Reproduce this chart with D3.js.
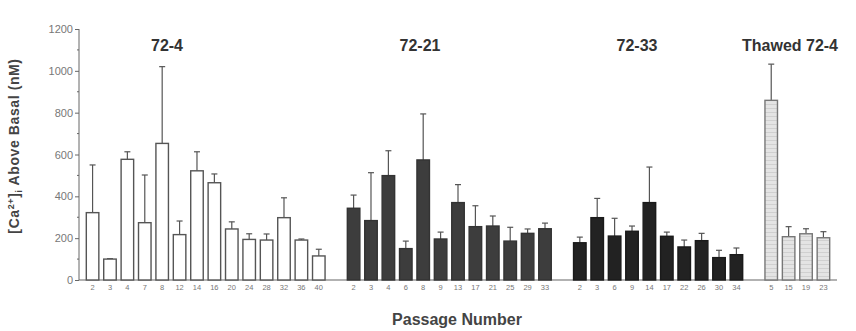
<!DOCTYPE html>
<html>
<head>
<meta charset="utf-8">
<script src="https://cdn.jsdelivr.net/npm/d3@7"></script>
<style>
  body { margin: 0; background: #fff; }
  text { font-family: "Liberation Sans", Arial, sans-serif; }
</style>
</head>
<body>
<div id="chart"></div>
<script>
// Group names and passage labels
const groupNames = ["72-4", "72-21", "72-33", "Thawed 72-4"];

const passages724 = ["2", "3", "4", "7", "8", "12", "14", "16", "20", "24", "28", "32", "36", "40"];
const means724 = [322, 100, 577, 274, 653, 217, 522, 465, 244, 194, 191, 298, 191, 115];
const errTop724 = [550, 102, 613, 502, 1020, 282, 613, 507, 278, 221, 220, 393, 196, 147];

const passages7221 = ["2", "3", "4", "6", "8", "9", "13", "17", "21", "25", "29", "33"];
const means7221 = [343, 284, 499, 150, 574, 196, 370, 255, 258, 186, 223, 245];
const errTop7221 = [406, 513, 618, 186, 794, 229, 456, 355, 306, 252, 244, 272];

const passages7233 = ["2", "3", "6", "9", "14", "17", "22", "26", "30", "34"];
const means7233 = [178, 298, 210, 233, 370, 209, 158, 188, 107, 121];
const errTop7233 = [205, 390, 295, 258, 540, 229, 191, 223, 142, 153];

const passagesThawed = ["5", "15", "19", "23"];
const meansThawed = [859, 207, 221, 202];
const errTopThawed = [1032, 255, 245, 231];

const yTicks = [0, 200, 400, 600, 800, 1000, 1200];

document.addEventListener("DOMContentLoaded", () => {
  const width = 856;
  const height = 331;

  const svg = d3.select("#chart")
    .append("svg")
    .attr("width", width)
    .attr("height", height);

  // pattern for the thawed bars (faint horizontal lines)
  const pat = svg.append("defs").append("pattern")
    .attr("id", "hlines")
    .attr("patternUnits", "userSpaceOnUse")
    .attr("width", 6)
    .attr("height", 4);
  pat.append("rect").attr("width", 6).attr("height", 4).attr("fill", "#e4e4e4");
  pat.append("line").attr("x1", 0).attr("x2", 6).attr("y1", 0.5).attr("y2", 0.5)
    .attr("stroke", "#cccccc").attr("stroke-width", 0.8);

  const groups = [
    { name: groupNames[0], labels: passages724, means: means724, errs: errTop724, fill: "#ffffff", stroke: "#555" },
    { name: groupNames[1], labels: passages7221, means: means7221, errs: errTop7221, fill: "#3d3d3d", stroke: "#333" },
    { name: groupNames[2], labels: passages7233, means: means7233, errs: errTop7233, fill: "#222222", stroke: "#1a1a1a" },
    { name: groupNames[3], labels: passagesThawed, means: meansThawed, errs: errTopThawed, fill: "url(#hlines)", stroke: "#777" }
  ];

  // one slot per bar plus an empty slot between groups
  const bars = [];
  const slots = [];
  groups.forEach((g, gi) => {
    g.labels.forEach((lab, i) => {
      const key = `${gi}-${lab}`;
      slots.push(key);
      bars.push({ key, label: lab, mean: g.means[i], err: g.errs[i], fill: g.fill, stroke: g.stroke, group: gi });
    });
    if (gi < groups.length - 1) slots.push(`gap${gi}`);
  });

  const x = d3.scaleBand()
    .domain(slots)
    .range([79, 837])
    .paddingInner(0.28)
    .paddingOuter(0.42);

  const y = d3.scaleLinear().domain([0, 1200]).range([280, 29]);

  // Y axis
  const yAxis = svg.append("g").attr("transform", "translate(79,0)");
  yAxis.call(d3.axisLeft(y).tickValues(yTicks).tickFormat(d3.format("d")).tickSize(4).tickPadding(2));
  yAxis.selectAll("text").attr("fill", "#777").style("font-size", "11px");
  yAxis.selectAll("line, path").attr("stroke", "#666");
  yAxis.select(".domain").attr("d", `M0,${y(1200)}V${y(0)}`);
  // minor ticks
  yAxis.selectAll(".minor")
    .data(d3.range(100, 1200, 200))
    .enter().append("line")
    .attr("x1", -2).attr("x2", 0)
    .attr("y1", d => y(d)).attr("y2", d => y(d))
    .attr("stroke", "#666");

  // X axis
  const xAxis = svg.append("g").attr("transform", `translate(0,${y(0)})`);
  xAxis.append("line")
    .attr("x1", 79).attr("x2", 837)
    .attr("stroke", "#666").attr("stroke-width", 1.2);
  xAxis.selectAll("text")
    .data(bars)
    .enter().append("text")
    .attr("x", d => x(d.key) + x.bandwidth() / 2)
    .attr("y", 10)
    .attr("text-anchor", "middle")
    .attr("fill", "#777")
    .style("font-size", "7.5px")
    .text(d => d.label);

  // error bars
  const capW = 3;
  const eb = svg.append("g").selectAll("g")
    .data(bars)
    .enter().append("g")
    .attr("stroke", "#555")
    .attr("stroke-width", 1.2);
  eb.append("line")
    .attr("x1", d => x(d.key) + x.bandwidth() / 2)
    .attr("x2", d => x(d.key) + x.bandwidth() / 2)
    .attr("y1", d => y(d.mean))
    .attr("y2", d => y(d.err));
  eb.append("line")
    .attr("x1", d => x(d.key) + x.bandwidth() / 2 - capW)
    .attr("x2", d => x(d.key) + x.bandwidth() / 2 + capW)
    .attr("y1", d => y(d.err))
    .attr("y2", d => y(d.err));

  // bars
  svg.append("g").selectAll("rect")
    .data(bars)
    .enter().append("rect")
    .attr("x", d => x(d.key))
    .attr("y", d => y(d.mean))
    .attr("width", x.bandwidth())
    .attr("height", d => y(0) - y(d.mean))
    .attr("fill", d => d.fill)
    .attr("stroke", d => d.stroke)
    .attr("stroke-width", 1.4);

  // group titles
  const titleX = [167, 420, 637, 790];
  svg.append("g").selectAll("text")
    .data(groupNames)
    .enter().append("text")
    .attr("x", (d, i) => titleX[i])
    .attr("y", 51)
    .attr("text-anchor", "middle")
    .attr("fill", "#333")
    .style("font-size", "16px")
    .style("font-weight", "bold")
    .text(d => d);

  // axis titles
  svg.append("text")
    .attr("x", 457)
    .attr("y", 325)
    .attr("text-anchor", "middle")
    .attr("fill", "#444")
    .style("font-size", "16px")
    .style("font-weight", "bold")
    .text("Passage Number");

  const yt = svg.append("text")
    .attr("transform", "translate(19,146) rotate(-90)")
    .attr("text-anchor", "middle")
    .attr("fill", "#444")
    .style("font-size", "14px")
    .style("letter-spacing", "0.6px")
    .style("font-weight", "bold");
  yt.append("tspan").text("[Ca");
  yt.append("tspan").attr("dy", -5).style("font-size", "9px").text("2+");
  yt.append("tspan").attr("dy", 5).text("]");
  yt.append("tspan").attr("dy", 3).style("font-size", "9px").text("i");
  yt.append("tspan").attr("dy", -3).text(" Above Basal (nM)");
});
</script>
</body>
</html>
